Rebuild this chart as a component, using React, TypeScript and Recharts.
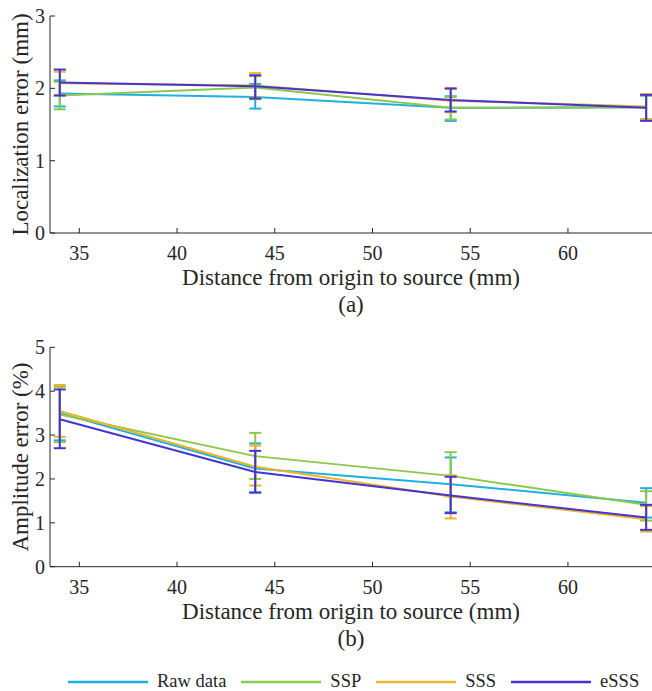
import React from 'react';
import { ComposedChart, Line, ErrorBar, XAxis, YAxis, Legend } from 'recharts';

const distances = [34, 44, 54, 64];
const xTicks = [35, 40, 45, 50, 55, 60];
const seriesKeys = ['raw', 'ssp', 'sss', 'esss'];
const seriesNames = ['Raw data', 'SSP', 'SSS', 'eSSS'];
const seriesColors = ['#1fb0e2', '#8cc84b', '#ebb526', '#4633d3'];

// (a) localization error (mm): mean, lower and upper end of each error bar
const locRaw = [1.93, 1.88, 1.73, 1.74];
const locRawLow = [1.75, 1.72, 1.55, 1.57];
const locRawHigh = [2.11, 2.06, 1.89, 1.9];
const locSsp = [1.9, 2.01, 1.73, 1.74];
const locSspLow = [1.71, 1.85, 1.57, 1.57];
const locSspHigh = [2.09, 2.17, 1.88, 1.9];
const locSss = [2.07, 2.04, 1.83, 1.75];
const locSssLow = [1.91, 1.87, 1.67, 1.57];
const locSssHigh = [2.23, 2.21, 1.99, 1.92];
const locEsss = [2.08, 2.03, 1.84, 1.73];
const locEsssLow = [1.9, 1.86, 1.68, 1.55];
const locEsssHigh = [2.26, 2.18, 2.0, 1.91];
const locTicks = [0, 1, 2, 3];

// (b) amplitude error (%)
const ampRaw = [3.5, 2.24, 1.88, 1.46];
const ampRawLow = [2.88, 1.69, 1.24, 1.12];
const ampRawHigh = [4.12, 2.81, 2.49, 1.79];
const ampSsp = [3.47, 2.52, 2.07, 1.41];
const ampSspLow = [2.84, 2.0, 1.6, 1.05];
const ampSspHigh = [4.1, 3.05, 2.61, 1.72];
const ampSss = [3.55, 2.28, 1.6, 1.08];
const ampSssLow = [2.96, 1.85, 1.1, 0.8];
const ampSssHigh = [4.14, 2.76, 2.08, 1.38];
const ampEsss = [3.36, 2.16, 1.62, 1.12];
const ampEsssLow = [2.7, 1.69, 1.22, 0.84];
const ampEsssHigh = [4.04, 2.64, 2.05, 1.41];
const ampTicks = [0, 1, 2, 3, 4, 5];

const FONT = '"Liberation Serif", "Times New Roman", serif';
const INK = '#262626';

function buildRows(means: number[][], lows: number[][], highs: number[][]) {
  return distances.map((d, i) => {
    const row: any = { x: d };
    seriesKeys.forEach((k, s) => {
      row[k] = means[s][i];
      row[k + 'Err'] = [means[s][i] - lows[s][i], highs[s][i] - means[s][i]];
    });
    return row;
  });
}

const locData = buildRows(
  [locRaw, locSsp, locSss, locEsss],
  [locRawLow, locSspLow, locSssLow, locEsssLow],
  [locRawHigh, locSspHigh, locSssHigh, locEsssHigh]
);
const ampData = buildRows(
  [ampRaw, ampSsp, ampSss, ampEsss],
  [ampRawLow, ampSspLow, ampSssLow, ampEsssLow],
  [ampRawHigh, ampSspHigh, ampSssHigh, ampEsssHigh]
);

const tickStyle = { fontSize: 20, fill: INK, fontFamily: FONT };

const xTitle = (caption: string) => (props: any) => {
  const vb = props.viewBox;
  const cx = vb.x + vb.width / 2;
  return (
    <g>
      <text x={cx} y={vb.y + 52} textAnchor="middle" fontSize={23} fill={INK} fontFamily={FONT}>
        Distance from origin to source (mm)
      </text>
      <text x={cx} y={vb.y + 79} textAnchor="middle" fontSize={23} fill={INK} fontFamily={FONT}>
        {caption}
      </text>
    </g>
  );
};

const yTitle = (title: string) => (props: any) => {
  const vb = props.viewBox;
  const cx = vb.x + 28;
  const cy = vb.y + vb.height / 2;
  return (
    <text
      x={cx}
      y={cy}
      transform={`rotate(-90 ${cx} ${cy})`}
      textAnchor="middle"
      fontSize={23}
      fill={INK}
      fontFamily={FONT}
    >
      {title}
    </text>
  );
};

const LegendRow = (props: any) => (
  <div style={{ display: 'flex', alignItems: 'center', fontFamily: FONT, fontSize: 18.5, color: INK }}>
    {(props.payload || []).map((p: any) => (
      <div key={p.value} style={{ display: 'flex', alignItems: 'center', marginRight: 15 }}>
        <svg width={80} height={4} style={{ marginRight: 9 }}>
          <line x1={0} y1={2} x2={80} y2={2} stroke={p.color} strokeWidth={2.5} />
        </svg>
        <span>{p.value}</span>
      </div>
    ))}
  </div>
);

function Panel(props: {
  data: any[];
  yTicks: number[];
  title: string;
  caption: string;
  height: number;
  top: number;
  bottom: number;
  xAxisHeight: number;
  legend?: boolean;
}) {
  const yMax = props.yTicks[props.yTicks.length - 1];
  return (
    <ComposedChart
      width={660}
      height={props.height}
      data={props.data}
      margin={{ top: props.top, right: 8, bottom: props.bottom, left: 0 }}
    >
      <XAxis
        dataKey="x"
        type="number"
        domain={[33.5, 64.3]}
        ticks={xTicks}
        interval={0}
        allowDataOverflow
        height={props.xAxisHeight}
        tickSize={-5}
        tickMargin={18}
        tick={tickStyle}
        axisLine={{ stroke: INK }}
        tickLine={{ stroke: INK }}
        label={xTitle(props.caption)}
      />
      <XAxis
        xAxisId="top"
        orientation="top"
        type="number"
        domain={[33.5, 64.3]}
        ticks={xTicks}
        interval={0}
        allowDataOverflow
        height={0}
        tickSize={-5}
        tick={false}
        axisLine={{ stroke: INK }}
        tickLine={{ stroke: INK }}
      />
      <YAxis
        type="number"
        domain={[0, yMax]}
        ticks={props.yTicks}
        interval={0}
        allowDataOverflow
        width={50}
        tickSize={-5}
        tickMargin={10}
        tick={tickStyle}
        axisLine={{ stroke: INK }}
        tickLine={{ stroke: INK }}
        label={yTitle(props.title)}
      />
      <YAxis
        yAxisId="right"
        orientation="right"
        type="number"
        domain={[0, yMax]}
        ticks={props.yTicks}
        interval={0}
        allowDataOverflow
        width={0}
        tickSize={-5}
        tick={false}
        axisLine={{ stroke: INK }}
        tickLine={{ stroke: INK }}
      />
      {seriesKeys.map((k, s) => (
        <Line
          key={k}
          dataKey={k}
          name={seriesNames[s]}
          type="linear"
          stroke={seriesColors[s]}
          strokeWidth={2}
          dot={false}
          activeDot={false}
          isAnimationActive={false}
        >
          <ErrorBar
            dataKey={k + 'Err'}
            direction="y"
            width={6}
            stroke={seriesColors[s]}
            strokeWidth={2}
            isAnimationActive={false}
          />
        </Line>
      ))}
      {props.legend && (
        <Legend
          layout="horizontal"
          verticalAlign="middle"
          align="center"
          content={LegendRow}
          wrapperStyle={{ top: 341, left: 68, width: 600, height: 22 }}
        />
      )}
    </ComposedChart>
  );
}

export default function App() {
  return (
    <div
      style={{
        position: 'absolute',
        left: 0,
        top: 0,
        width: 652,
        height: 691,
        overflow: 'hidden',
        background: '#fff',
      }}
    >
      <Panel
        data={locData}
        yTicks={locTicks}
        title="Localization error (mm)"
        caption="(a)"
        height={330}
        top={16}
        bottom={0}
        xAxisHeight={97}
      />
      <Panel
        data={ampData}
        yTicks={ampTicks}
        title="Amplitude error (%)"
        caption="(b)"
        height={361}
        top={17.3}
        bottom={31}
        xAxisHeight={93.3}
        legend
      />
    </div>
  );
}
